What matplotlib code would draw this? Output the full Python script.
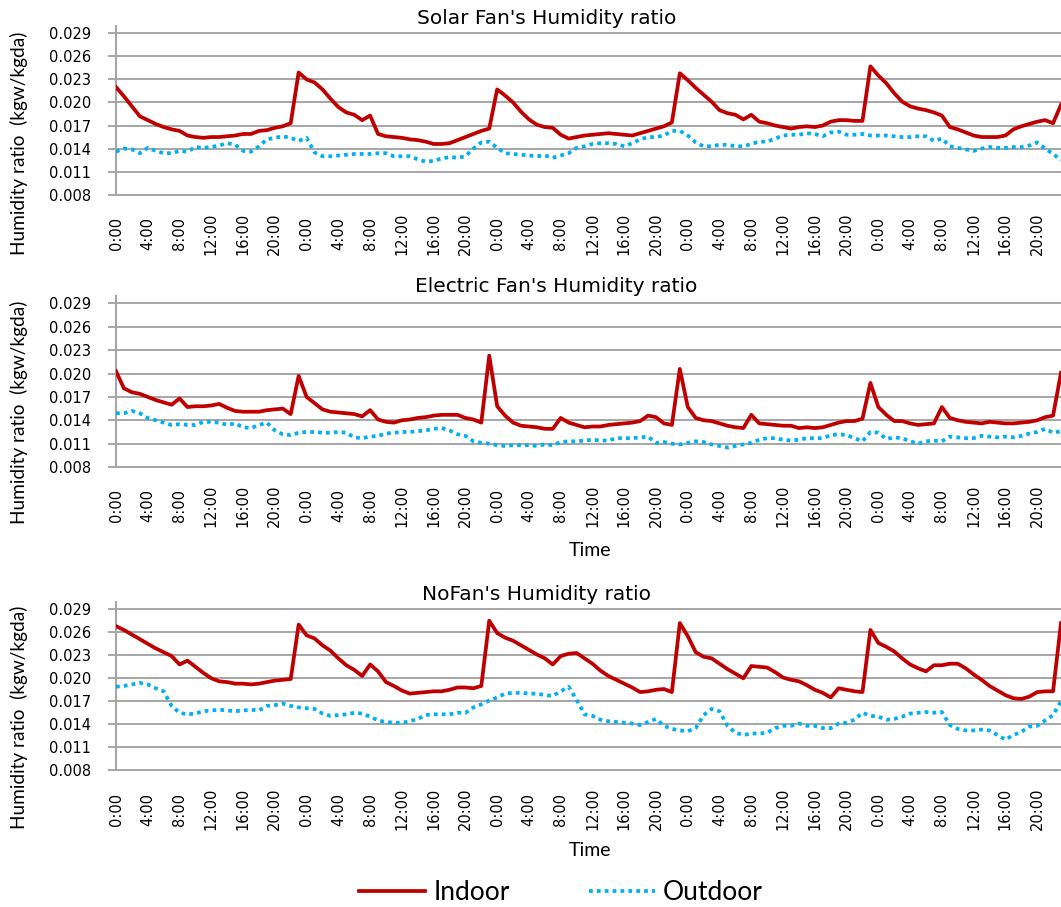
import matplotlib.pyplot as plt
from matplotlib.lines import Line2D

# hourly readings over five days (index 0 = 0:00 of day 1)
hours = list(range(120))
tick_pos = list(range(0, 120, 4))
tick_labels = ["0:00", "4:00", "8:00", "12:00", "16:00", "20:00"] * 5
y_ticks = [0.008, 0.011, 0.014, 0.017, 0.020, 0.023, 0.026, 0.029]

solar_indoor = [
    0.0220, 0.0208, 0.0195, 0.0182, 0.0177, 0.0172, 0.0168, 0.0165, 0.0163, 0.0157, 0.0155, 0.0154,
    0.0155, 0.0155, 0.0156, 0.0157, 0.0159, 0.0159, 0.0163, 0.0164, 0.0167, 0.0169, 0.0173, 0.0239,
    0.0230, 0.0226, 0.0217, 0.0205, 0.0194, 0.0187, 0.0184, 0.0177, 0.0183, 0.0159, 0.0156, 0.0155,
    0.0154, 0.0152, 0.0151, 0.0149, 0.0146, 0.0146, 0.0147, 0.0151, 0.0155, 0.0159, 0.0163, 0.0166,
    0.0217, 0.0209, 0.0200, 0.0188, 0.0178, 0.0171, 0.0168, 0.0167, 0.0158, 0.0153, 0.0155, 0.0157,
    0.0158, 0.0159, 0.0160, 0.0159, 0.0158, 0.0157, 0.0160, 0.0163, 0.0166, 0.0169, 0.0174, 0.0238,
    0.0229, 0.0219, 0.0210, 0.0201, 0.0190, 0.0186, 0.0184, 0.0178, 0.0184, 0.0175, 0.0173, 0.0170,
    0.0168, 0.0166, 0.0168, 0.0169, 0.0168, 0.0170, 0.0175, 0.0177, 0.0177, 0.0176, 0.0176, 0.0247,
    0.0235, 0.0225, 0.0212, 0.0201, 0.0195, 0.0192, 0.0190, 0.0187, 0.0183, 0.0168, 0.0165, 0.0161,
    0.0157, 0.0155, 0.0155, 0.0155, 0.0157, 0.0165, 0.0169, 0.0172, 0.0175, 0.0177, 0.0173, 0.0197,
]
solar_outdoor = [
    0.0136, 0.0140, 0.0139, 0.0134, 0.0141, 0.0137, 0.0134, 0.0134, 0.0137, 0.0136, 0.0142, 0.0141,
    0.0142, 0.0144, 0.0147, 0.0145, 0.0137, 0.0136, 0.0143, 0.0152, 0.0154, 0.0156, 0.0154, 0.0150,
    0.0154, 0.0135, 0.0130, 0.0130, 0.0131, 0.0132, 0.0133, 0.0133, 0.0133, 0.0134, 0.0134, 0.0130,
    0.0130, 0.0130, 0.0126, 0.0123, 0.0124, 0.0127, 0.0129, 0.0128, 0.0130, 0.0140, 0.0148, 0.0149,
    0.0141, 0.0134, 0.0133, 0.0132, 0.0131, 0.0130, 0.0131, 0.0128, 0.0131, 0.0134, 0.0141, 0.0143,
    0.0146, 0.0147, 0.0147, 0.0146, 0.0143, 0.0147, 0.0152, 0.0155, 0.0155, 0.0157, 0.0163, 0.0163,
    0.0157, 0.0148, 0.0143, 0.0143, 0.0145, 0.0145, 0.0143, 0.0143, 0.0146, 0.0149, 0.0149, 0.0153,
    0.0157, 0.0158, 0.0158, 0.0160, 0.0159, 0.0156, 0.0161, 0.0162, 0.0158, 0.0158, 0.0159, 0.0157,
    0.0157, 0.0157, 0.0156, 0.0155, 0.0155, 0.0156, 0.0156, 0.0150, 0.0153, 0.0143, 0.0141, 0.0139,
    0.0137, 0.0140, 0.0142, 0.0141, 0.0141, 0.0142, 0.0142, 0.0144, 0.0148, 0.0140, 0.0133, 0.0125,
]

electric_indoor = [
    0.0203, 0.0181, 0.0176, 0.0174, 0.0170, 0.0166, 0.0163, 0.0160, 0.0168, 0.0157, 0.0158, 0.0158,
    0.0159, 0.0161, 0.0156, 0.0152, 0.0151, 0.0151, 0.0151, 0.0153, 0.0154, 0.0155, 0.0148, 0.0197,
    0.0170, 0.0162, 0.0154, 0.0151, 0.0150, 0.0149, 0.0148, 0.0145, 0.0153, 0.0141, 0.0138, 0.0137,
    0.0140, 0.0141, 0.0143, 0.0144, 0.0146, 0.0147, 0.0147, 0.0147, 0.0143, 0.0141, 0.0137, 0.0223,
    0.0158, 0.0146, 0.0137, 0.0133, 0.0132, 0.0131, 0.0129, 0.0129, 0.0143, 0.0137, 0.0134, 0.0131,
    0.0132, 0.0132, 0.0134, 0.0135, 0.0136, 0.0137, 0.0139, 0.0146, 0.0144, 0.0136, 0.0134, 0.0206,
    0.0157, 0.0143, 0.0140, 0.0139, 0.0136, 0.0133, 0.0131, 0.0130, 0.0147, 0.0136, 0.0135, 0.0134,
    0.0133, 0.0133, 0.0130, 0.0131, 0.0130, 0.0131, 0.0134, 0.0137, 0.0139, 0.0139, 0.0142, 0.0188,
    0.0157, 0.0147, 0.0139, 0.0139, 0.0136, 0.0134, 0.0135, 0.0136, 0.0157, 0.0143, 0.0140, 0.0138,
    0.0137, 0.0136, 0.0138, 0.0137, 0.0136, 0.0136, 0.0137, 0.0138, 0.0140, 0.0144, 0.0146, 0.0201,
]
electric_outdoor = [
    0.0149, 0.0149, 0.0152, 0.0149, 0.0143, 0.0140, 0.0137, 0.0134, 0.0135, 0.0134, 0.0134, 0.0138,
    0.0138, 0.0137, 0.0134, 0.0136, 0.0131, 0.0130, 0.0134, 0.0137, 0.0127, 0.0122, 0.0121, 0.0124,
    0.0125, 0.0125, 0.0124, 0.0124, 0.0125, 0.0124, 0.0118, 0.0117, 0.0119, 0.0120, 0.0123, 0.0124,
    0.0125, 0.0125, 0.0126, 0.0127, 0.0129, 0.0130, 0.0127, 0.0122, 0.0120, 0.0113, 0.0111, 0.0110,
    0.0108, 0.0107, 0.0108, 0.0108, 0.0108, 0.0107, 0.0109, 0.0108, 0.0112, 0.0113, 0.0113, 0.0114,
    0.0115, 0.0114, 0.0114, 0.0117, 0.0117, 0.0117, 0.0118, 0.0119, 0.0111, 0.0112, 0.0110, 0.0109,
    0.0111, 0.0113, 0.0112, 0.0109, 0.0107, 0.0105, 0.0107, 0.0109, 0.0111, 0.0115, 0.0117, 0.0117,
    0.0115, 0.0114, 0.0115, 0.0117, 0.0117, 0.0117, 0.0121, 0.0122, 0.0121, 0.0117, 0.0113, 0.0125,
    0.0124, 0.0116, 0.0118, 0.0117, 0.0113, 0.0110, 0.0113, 0.0114, 0.0113, 0.0119, 0.0118, 0.0117,
    0.0117, 0.0120, 0.0119, 0.0118, 0.0119, 0.0118, 0.0120, 0.0123, 0.0125, 0.0129, 0.0124, 0.0126,
]

nofan_indoor = [
    0.0268, 0.0263, 0.0257, 0.0251, 0.0245, 0.0239, 0.0234, 0.0229, 0.0218, 0.0223, 0.0215, 0.0207,
    0.0200, 0.0196, 0.0195, 0.0193, 0.0193, 0.0192, 0.0193, 0.0195, 0.0197, 0.0198, 0.0199, 0.0270,
    0.0256, 0.0252, 0.0243, 0.0236, 0.0226, 0.0217, 0.0211, 0.0203, 0.0218, 0.0209, 0.0195, 0.0190,
    0.0184, 0.0180, 0.0181, 0.0182, 0.0183, 0.0183, 0.0185, 0.0188, 0.0188, 0.0187, 0.0190, 0.0275,
    0.0259, 0.0253, 0.0249, 0.0243, 0.0237, 0.0231, 0.0226, 0.0218, 0.0229, 0.0232, 0.0233, 0.0226,
    0.0219, 0.0210, 0.0203, 0.0198, 0.0193, 0.0188, 0.0182, 0.0183, 0.0185, 0.0186, 0.0182, 0.0272,
    0.0255, 0.0234, 0.0228, 0.0226, 0.0219, 0.0212, 0.0206, 0.0200, 0.0216, 0.0215, 0.0214, 0.0208,
    0.0201, 0.0198, 0.0196, 0.0191, 0.0185, 0.0181, 0.0175, 0.0187, 0.0185, 0.0183, 0.0182, 0.0263,
    0.0246, 0.0241, 0.0235, 0.0226, 0.0218, 0.0213, 0.0209, 0.0217, 0.0217, 0.0219, 0.0219, 0.0213,
    0.0205, 0.0198, 0.0190, 0.0184, 0.0178, 0.0174, 0.0173, 0.0176, 0.0182, 0.0183, 0.0183, 0.0272,
]
nofan_outdoor = [
    0.0189, 0.0190, 0.0192, 0.0194, 0.0192, 0.0187, 0.0183, 0.0164, 0.0155, 0.0153, 0.0154, 0.0157,
    0.0158, 0.0159, 0.0158, 0.0157, 0.0158, 0.0159, 0.0158, 0.0164, 0.0165, 0.0167, 0.0164, 0.0162,
    0.0161, 0.0160, 0.0154, 0.0151, 0.0152, 0.0153, 0.0155, 0.0154, 0.0150, 0.0145, 0.0143, 0.0142,
    0.0142, 0.0144, 0.0147, 0.0152, 0.0153, 0.0153, 0.0153, 0.0155, 0.0155, 0.0162, 0.0166, 0.0171,
    0.0175, 0.0180, 0.0181, 0.0181, 0.0180, 0.0180, 0.0178, 0.0177, 0.0183, 0.0189, 0.0172, 0.0153,
    0.0151, 0.0146, 0.0144, 0.0143, 0.0142, 0.0141, 0.0139, 0.0143, 0.0147, 0.0138, 0.0134, 0.0132,
    0.0131, 0.0135, 0.0152, 0.0160, 0.0157, 0.0138, 0.0129, 0.0126, 0.0128, 0.0128, 0.0129, 0.0135,
    0.0138, 0.0138, 0.0141, 0.0138, 0.0138, 0.0135, 0.0135, 0.0141, 0.0142, 0.0146, 0.0155, 0.0151,
    0.0150, 0.0146, 0.0147, 0.0150, 0.0154, 0.0155, 0.0156, 0.0155, 0.0156, 0.0139, 0.0134, 0.0132,
    0.0132, 0.0133, 0.0132, 0.0126, 0.0120, 0.0126, 0.0130, 0.0137, 0.0138, 0.0145, 0.0152, 0.0170,
]

RED = "#C00000"
BLUE = "#00B0F0"
GRID = "#A6A6A6"
W, H = 1061, 907

fig = plt.figure(figsize=(W / 100, H / 100), dpi=100)

# (title, indoor, outdoor, top px, bottom px, title x px, title y px, ylabel y px, time label y px)
panels = [
    ("Solar Fan's Humidity ratio", solar_indoor, solar_outdoor, 25.6, 194.7, 547, 19, 143, None),
    ("Electric Fan's Humidity ratio", electric_indoor, electric_outdoor, 295.7, 467, 556, 287, 412, 550),
    ("NoFan's Humidity ratio", nofan_indoor, nofan_outdoor, 601.6, 770.3, 537, 594, 717, 851),
]

left = 116
for title, indoor, outdoor, top, bottom, tx, ty, ly, time_y in panels:
    ax = fig.add_axes([left / W, 1 - bottom / H, (W - left) / W, (bottom - top) / H])
    ax.plot(hours, indoor, color=RED, lw=2.7, zorder=3)
    ax.plot(hours, outdoor, color=BLUE, lw=2.7, linestyle=(0, (1, 1.1)), zorder=3)

    ax.set_xlim(0, 119)
    ax.set_ylim(0.008, 0.030)
    ax.yaxis.grid(True, color=GRID, lw=1.4)
    ax.set_axisbelow(True)

    for side in ["top", "right"]:
        ax.spines[side].set_visible(False)
    ax.spines["left"].set_color(GRID)
    ax.spines["left"].set_linewidth(1.5)
    ax.spines["bottom"].set_color(GRID)
    ax.spines["bottom"].set_linewidth(1.4)

    ax.tick_params(axis="y", length=5.8, width=1.4, color=GRID, pad=12, labelsize=10.5)
    ax.tick_params(axis="x", length=0, pad=28, labelsize=10.5)
    ax.set_yticks(y_ticks, [f"{v:.3f}" for v in y_ticks])
    ax.set_xticks(tick_pos, tick_labels, rotation=90, va="center")

    fig.text(tx / W, 1 - ty / H, title, ha="center", va="center", fontsize=14.5)
    fig.text(19 / W, 1 - ly / H, "Humidity ratio  (kgw/kgda)", rotation=90,
             ha="center", va="center", fontsize=13.7, family="Lato")
    if time_y is not None:
        fig.text(590 / W, 1 - time_y / H, "Time", ha="center", va="center",
                 fontsize=14, family="Lato")

handles = [
    Line2D([], [], color=RED, lw=2.7),
    Line2D([], [], color=BLUE, lw=2.7, linestyle=(0, (1, 1.1))),
]
fig.legend(handles, ["Indoor", "Outdoor"], loc="center", bbox_to_anchor=(561 / W, 1 - 893 / H),
           ncol=2, frameon=False, handlelength=2.5, handletextpad=0.3, columnspacing=3.0,
           prop={"family": "Lato", "size": 19})

fig.savefig("out.png", dpi=100)
